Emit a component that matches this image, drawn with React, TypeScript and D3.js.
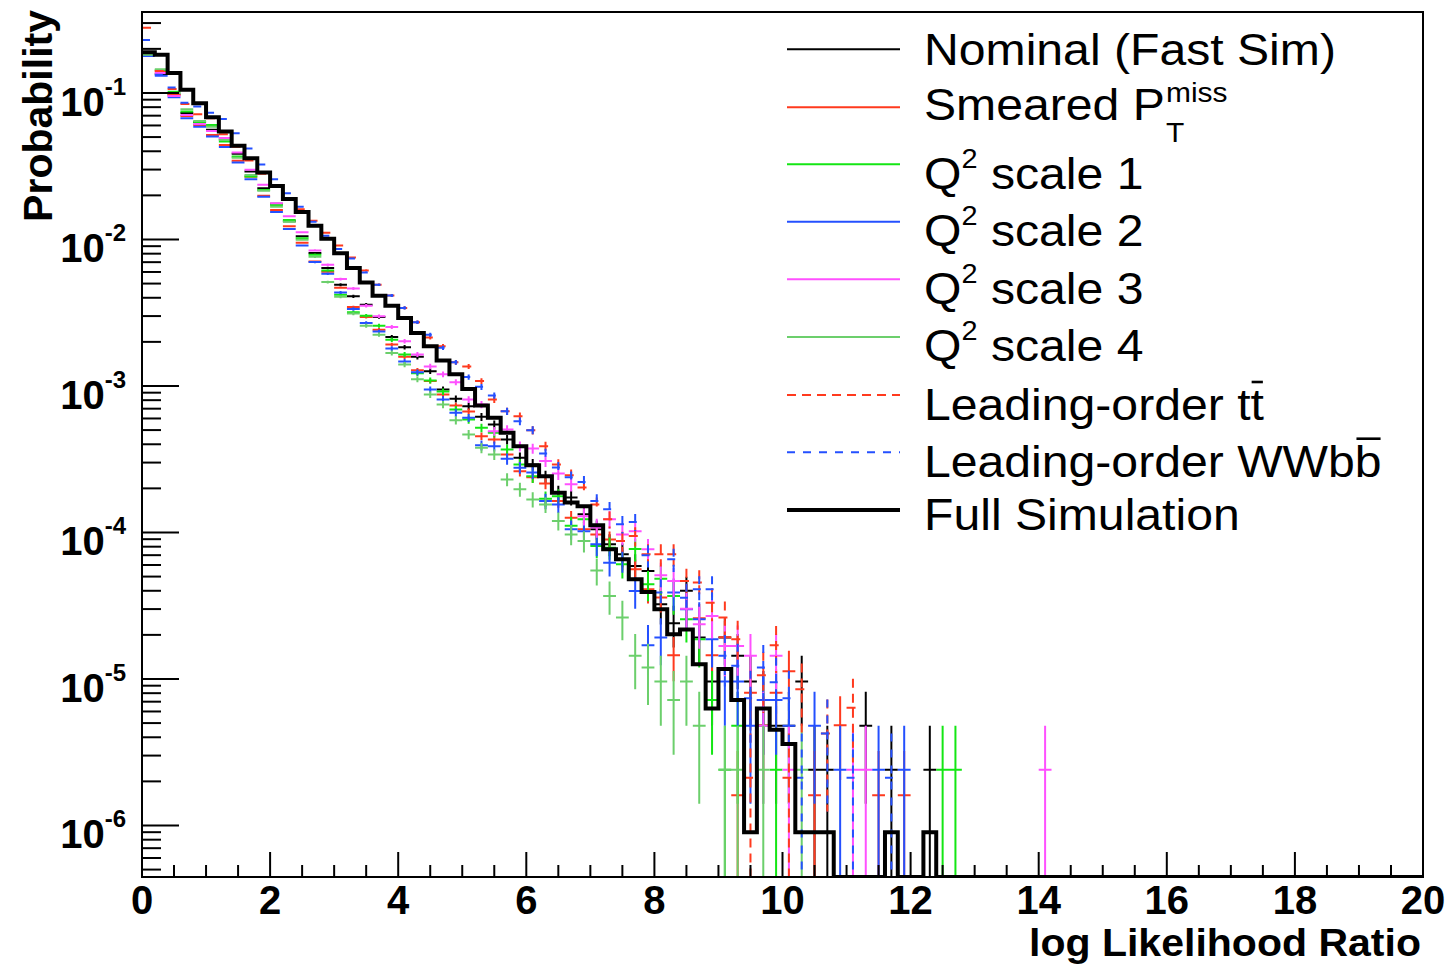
import React from "react";
import * as d3 from "d3";

// ---------------- data (bin width 0.2, bin i covers [0.2*i, 0.2*(i+1)) ) ----------------
const BIN_WIDTH = 0.2;
const N_BINS = 100;
const X_RANGE = [0, 20];
const Y_RANGE = [4.45e-7, 0.357];

const fullSimulation = [
  0.19, 0.182, 0.137, 0.105, 0.0851, 0.0683, 0.0545, 0.0437, 0.0359, 0.0286,
  0.0232, 0.0189, 0.0154, 0.0124, 0.0101, 0.00806, 0.00638, 0.00509, 0.00413, 0.00353,
  0.00291, 0.0023, 0.00187, 0.00149, 0.0012, 0.000955, 0.000735, 0.000606, 0.000479, 0.000388,
  0.000288, 0.000242, 0.000187, 0.00016, 0.000151, 0.000112, 7.67e-5, 6.56e-5, 4.79e-5, 3.93e-5,
  2.99e-5, 2.02e-5, 2.18e-5, 1.26e-5, 6.3e-6, 1.17e-5, 7.2e-6, 9.0e-7, 6.3e-6, 4.5e-6,
  3.6e-6, 9.0e-7, 9.0e-7, 9.0e-7, 0, 0, 0, 0, 9.0e-7, 0,
  0, 9.0e-7,
];

const nominalFastSim = [
  0.1845, 0.1347, 0.098, 0.0731, 0.0634, 0.056, 0.0484, 0.0384, 0.0291, 0.0224,
  0.0175, 0.0133, 0.0105, 0.00808, 0.00639, 0.00491, 0.00409, 0.00359, 0.00296, 0.00216,
  0.00184, 0.00158, 0.00126, 0.000945, 0.000817, 0.000727, 0.000616, 0.000546, 0.000431, 0.000324,
  0.000291, 0.00024, 0.000187, 0.000173, 0.000133, 0.000105, 8.3e-5, 7.09e-5, 5.9e-5, 5.46e-5,
  3.24e-5, 2.4e-5, 4.0e-5, 1.92e-5, 9.6e-6, 1.92e-5, 1.44e-5, 9.6e-6, 7.2e-6, 4.8e-6,
  4.8e-6, 9.6e-6, 2.4e-6, 2.4e-6, 0, 0, 4.8e-6, 0, 2.4e-6, 0,
  0, 2.4e-6,
];

const smearedPtMiss = [
  0.19, 0.14, 0.0969, 0.0697, 0.0605, 0.0517, 0.0442, 0.0344, 0.0268, 0.0199,
  0.0159, 0.0123, 0.0095, 0.00708, 0.00602, 0.00469, 0.00346, 0.00296, 0.00242, 0.00192,
  0.00158, 0.00128, 0.00108, 0.000874, 0.000735, 0.000669, 0.000454, 0.000431, 0.000341, 0.000262,
  0.000238, 0.000216, 0.000164, 0.000126, 0.000105, 9.7e-5, 8.97e-5, 6.56e-5, 5.6e-5, 4.09e-5,
  3.6e-5, 1.45e-5, 3.0e-5, 2.6e-5, 1.45e-5, 1.93e-5, 1.61e-6, 8.05e-6, 4.83e-6, 8.05e-6,
  1.13e-5, 0, 1.61e-6, 0, 4.83e-6, 0, 0, 1.61e-6, 0, 1.61e-6,
];

const q2Scale1 = [
  0.187, 0.1435, 0.102, 0.0746, 0.0631, 0.0605, 0.0466, 0.0368, 0.0269, 0.0218,
  0.0172, 0.0136, 0.0102, 0.00787, 0.00615, 0.0042, 0.00318, 0.00302, 0.00258, 0.00207,
  0.00164, 0.00122, 0.00109, 0.000916, 0.00069, 0.00059, 0.000518, 0.000479, 0.000369, 0.000291,
  0.000242, 0.00017, 0.000177, 0.000111, 0.000123, 8.08e-5, 7.88e-5, 6.06e-5, 7.7e-5, 4.43e-5,
  4.84e-5, 3.69e-5, 2.56e-5, 1.87e-5, 7.2e-6, 2.4e-6, 4.8e-6, 0, 4.8e-6, 2.4e-6,
  0, 0, 0, 0, 0, 0, 0, 0, 0, 0,
  0, 0, 2.4e-6, 2.4e-6,
];

const q2Scale2 = [
  0.179, 0.131, 0.0935, 0.0672, 0.0589, 0.0504, 0.0427, 0.0335, 0.0258, 0.0196,
  0.0154, 0.0118, 0.0091, 0.00701, 0.00584, 0.00435, 0.00335, 0.00269, 0.00235, 0.0018,
  0.00147, 0.00124, 0.000945, 0.000808, 0.000656, 0.000606, 0.000394, 0.000388, 0.000318, 0.000277,
  0.000257, 0.000164, 0.000155, 0.000105, 0.000102, 8.3e-5, 6.22e-5, 6.56e-5, 3.99e-5, 1.7e-5,
  1.92e-5, 3.89e-5, 2.99e-5, 2.56e-5, 1.87e-5, 9.6e-6, 9.6e-6, 4.8e-6, 7.2e-6, 7.2e-6,
  4.8e-6, 0, 4.8e-6, 0, 2.4e-6, 0, 0, 2.4e-6, 0, 2.4e-6,
];

const q2Scale3 = [
  0.1845, 0.137, 0.0954, 0.0708, 0.0615, 0.0551, 0.0493, 0.0392, 0.0299, 0.0236,
  0.0177, 0.0144, 0.0112, 0.00842, 0.00672, 0.00537, 0.00463, 0.00353, 0.00299, 0.00253,
  0.00202, 0.00164, 0.00136, 0.0012, 0.00106, 0.000808, 0.000747, 0.000491, 0.000504, 0.000388,
  0.000374, 0.000307, 0.000253, 0.000213, 0.000129, 0.000108, 0.000123, 9.7e-5, 0.000102, 7.67e-5,
  5.1e-5, 4.67e-5, 3.02e-5, 2.36e-5, 2.69e-5, 1.68e-5, 1.68e-5, 1.44e-5, 4.8e-6, 1.44e-5,
  2.4e-6, 0, 0, 0, 0, 2.4e-6, 2.4e-6, 0, 0, 0,
  0, 0, 0, 0, 0, 0, 0, 0, 0, 0,
  2.4e-6,
];

const q2Scale4 = [
  0.182, 0.145, 0.1, 0.0774, 0.0644, 0.0587, 0.0478, 0.0361, 0.0276, 0.0215,
  0.0167, 0.0132, 0.00995, 0.00762, 0.00512, 0.00407, 0.00312, 0.00258, 0.00224, 0.00168,
  0.0014, 0.00111, 0.000874, 0.000747, 0.000584, 0.000467, 0.000378, 0.000341, 0.00023, 0.000197,
  0.000168, 0.000155, 0.00012, 9.7e-5, 8.74e-5, 5.5e-5, 3.69e-5, 2.63e-5, 1.44e-5, 1.2e-5,
  9.6e-6, 7.2e-6, 9.6e-6, 4.8e-6, 0, 2.4e-6, 2.4e-6, 0, 2.4e-6, 0,
  0, 2.4e-6,
];

const leadingOrderTT = [
  0.279, 0.141, 0.1065, 0.0841, 0.0716, 0.0672, 0.0523, 0.043, 0.0346, 0.0281,
  0.0233, 0.019, 0.0161, 0.0134, 0.0111, 0.0091, 0.00754, 0.00615, 0.00491, 0.00415,
  0.00341, 0.00272, 0.00214, 0.00187, 0.00145, 0.00136, 0.00108, 0.000808, 0.000672, 0.000622,
  0.000499, 0.000388, 0.000291, 0.000246, 0.000203, 0.000155, 0.000123, 8.74e-5, 9.45e-5, 7.09e-5,
  7.09e-5, 7.09e-5, 4.67e-5, 4.55e-5, 3.32e-5, 2.63e-5, 1.87e-5, 2.12e-6, 1.06e-5, 1.7e-5,
  2.12e-6, 8.5e-6, 0, 4.24e-6, 0, 6.36e-6,
];

const leadingOrderWWbb = [
  0.23, 0.133, 0.109, 0.0859, 0.0807, 0.0734, 0.0665, 0.0531, 0.0417, 0.0325,
  0.0258, 0.0207, 0.0167, 0.0132, 0.0106, 0.0086, 0.00742, 0.00596, 0.00491, 0.00415,
  0.00341, 0.00272, 0.00224, 0.00182, 0.00145, 0.00115, 0.000986, 0.00086, 0.000672, 0.000575,
  0.000499, 0.000346, 0.000278, 0.000238, 0.000221, 0.000164, 0.000144, 0.000114, 0.000118, 6.98e-5,
  3.89e-5, 6.56e-5, 3.59e-5, 4.09e-5, 4.09e-5, 1.44e-5, 1.23e-5, 7.4e-6, 1.2e-5, 9.5e-6,
  7.4e-6, 2.12e-6, 0, 4.24e-6, 0, 2.12e-6, 0, 0, 2.12e-6,
];

// probability carried by a single event of each sample (sets the Poisson error bars)
const entryWeights = [2.4e-6, 1.61e-6, 2.4e-6, 2.4e-6, 2.4e-6, 2.4e-6, 2.12e-6, 2.12e-6];

const xMajorTicks = [0, 2, 4, 6, 8, 10, 12, 14, 16, 18, 20];
const yDecadeExponents = [-1, -2, -3, -4, -5, -6];

// ---------------- styles & layout ----------------
const W = 1446;
const H = 964;
const FRAME = { left: 142, right: 1423, top: 12, bottom: 877 };
const FONT = '"Liberation Sans", Arial, Helvetica, sans-serif';

const COLORS = {
  black: "#000000",
  red: "#ff3a1e",
  green: "#14e614",
  blue: "#2450ff",
  magenta: "#ff50ff",
  lightGreen: "#6ccf6c",
};

const pointSeries = [
  { values: nominalFastSim, color: COLORS.black, dash: undefined as string | undefined },
  { values: smearedPtMiss, color: COLORS.red, dash: undefined },
  { values: q2Scale1, color: COLORS.green, dash: undefined },
  { values: q2Scale2, color: COLORS.blue, dash: undefined },
  { values: q2Scale3, color: COLORS.magenta, dash: undefined },
  { values: q2Scale4, color: COLORS.lightGreen, dash: undefined },
  { values: leadingOrderTT, color: COLORS.red, dash: "9,6" },
  { values: leadingOrderWWbb, color: COLORS.blue, dash: "8,8" },
];

const LEGEND = { x1: 787, x2: 900, textX: 924, fontSize: 45, stretch: 1.07 };
const legendRows = [
  { line: 49.3, base: 65 },
  { line: 107.3, base: 120 },
  { line: 164.3, base: 188.5 },
  { line: 221.7, base: 246 },
  { line: 279.3, base: 303.5 },
  { line: 337, base: 361 },
  { line: 395, base: 420 },
  { line: 452.3, base: 476.7 },
  { line: 510, base: 530 },
];

let measureCtx: CanvasRenderingContext2D | null = null;
function textWidth(s: string, size: number, weight = "normal"): number {
  if (!measureCtx && typeof document !== "undefined") {
    measureCtx = document.createElement("canvas").getContext("2d");
  }
  if (!measureCtx) return s.length * size * 0.55;
  measureCtx.font = `${weight} ${size}px ${FONT}`;
  return measureCtx.measureText(s).width;
}

function LegendLabel({ index }: { index: number }) {
  const fs = LEGEND.fontSize;
  const sub = 28;
  const sup2 = 27;
  switch (index) {
    case 0:
      return <text fontSize={fs}>Nominal (Fast Sim)</text>;
    case 1: {
      const w = textWidth("Smeared P", fs);
      return (
        <g>
          <text fontSize={fs}>Smeared P</text>
          <text x={w + 1} y={-18} fontSize={sub}>miss</text>
          <text x={w + 1} y={21.7} fontSize={sub}>T</text>
        </g>
      );
    }
    case 2:
    case 3:
    case 4:
    case 5:
      return (
        <text fontSize={fs}>
          Q<tspan fontSize={sup2} dy={-21}>2</tspan>
          <tspan fontSize={fs} dy={21}>{` scale ${index - 1}`}</tspan>
        </text>
      );
    case 6: {
      const a = textWidth("Leading-order t", fs);
      const b = textWidth("Leading-order tt", fs);
      return (
        <g>
          <text fontSize={fs}>Leading-order tt</text>
          <line x1={a + 1} x2={b - 1} y1={-38} y2={-38} stroke="#000" strokeWidth={2.6} />
        </g>
      );
    }
    case 7: {
      const a = textWidth("Leading-order WWb", fs);
      const b = textWidth("Leading-order WWbb", fs);
      return (
        <g>
          <text fontSize={fs}>Leading-order WWbb</text>
          <line x1={a + 1.5} x2={b - 1} y1={-38} y2={-38} stroke="#000" strokeWidth={2.6} />
        </g>
      );
    }
    default:
      return <text fontSize={fs}>Full Simulation</text>;
  }
}

export default function App() {
  const x = d3.scaleLinear().domain(X_RANGE).range([FRAME.left, FRAME.right]);
  const y = d3.scaleLog().domain(Y_RANGE).range([FRAME.bottom, FRAME.top]).clamp(true);
  const yv = (v: number) => (v > 0 ? y(v) : FRAME.bottom);

  // full simulation histogram outline
  const full = Array.from({ length: N_BINS }, (_, i) => fullSimulation[i] ?? 0);
  const histPts: [number, number][] = full.map((v, i) => [i * BIN_WIDTH, v]);
  histPts.push([N_BINS * BIN_WIDTH, full[N_BINS - 1]]);
  const histLine = d3
    .line<[number, number]>()
    .x((d) => x(d[0]))
    .y((d) => yv(d[1]))
    .curve(d3.curveStepAfter);

  // error-bar crosses
  const crossPath = (values: number[], weight: number) => {
    const p = d3.path();
    values.forEach((v, i) => {
      if (!(v > 0)) return;
      const err = Math.sqrt(v * weight);
      const x1 = x(i * BIN_WIDTH);
      const x2 = x((i + 1) * BIN_WIDTH);
      const cx = x((i + 0.5) * BIN_WIDTH);
      const yc = y(v);
      p.moveTo(x1, yc);
      p.lineTo(x2, yc);
      p.moveTo(cx, y(v + err));
      p.lineTo(cx, v - err > 0 ? y(v - err) : FRAME.bottom);
    });
    return p.toString();
  };

  // ticks
  const xMinor = d3.range(0, 20.001, 0.5).filter((t) => Math.abs(t / 2 - Math.round(t / 2)) > 1e-6);
  const yMinor: number[] = [];
  for (let k = -7; k <= 0; k++) {
    for (let m = 2; m <= 9; m++) {
      const v = m * Math.pow(10, k);
      if (v >= Y_RANGE[0] && v <= Y_RANGE[1]) yMinor.push(v);
    }
  }

  return (
    <svg
      width={W}
      height={H}
      viewBox={`0 0 ${W} ${H}`}
      style={{ position: "absolute", left: 0, top: 0, background: "#fff" }}
      fontFamily={FONT}
    >
      <defs>
        <clipPath id="plotArea">
          <rect x={FRAME.left} y={FRAME.top} width={FRAME.right - FRAME.left} height={FRAME.bottom - FRAME.top} />
        </clipPath>
      </defs>
      <rect x={0} y={0} width={W} height={H} fill="#fff" />

      <g clipPath="url(#plotArea)">
        {pointSeries.map((s, si) => (
          <path
            key={si}
            d={crossPath(s.values, entryWeights[si])}
            fill="none"
            stroke={s.color}
            strokeWidth={2}
            strokeDasharray={s.dash}
          />
        ))}
        <path d={histLine(histPts) || ""} fill="none" stroke="#000" strokeWidth={4} strokeLinejoin="miter" />
      </g>

      {/* frame */}
      <rect
        x={FRAME.left}
        y={FRAME.top}
        width={FRAME.right - FRAME.left}
        height={FRAME.bottom - FRAME.top}
        fill="none"
        stroke="#000"
        strokeWidth={2}
      />

      {/* ticks */}
      <g stroke="#000" strokeWidth={2}>
        {xMajorTicks.map((t) => (
          <line key={`xM${t}`} x1={x(t)} x2={x(t)} y1={FRAME.bottom} y2={FRAME.bottom - 25} />
        ))}
        {xMinor.map((t) => (
          <line key={`xm${t}`} x1={x(t)} x2={x(t)} y1={FRAME.bottom} y2={FRAME.bottom - 12} />
        ))}
        {yDecadeExponents.map((k) => (
          <line key={`yM${k}`} x1={FRAME.left} x2={FRAME.left + 37} y1={y(Math.pow(10, k))} y2={y(Math.pow(10, k))} />
        ))}
        {yMinor.map((v, i) => (
          <line key={`ym${i}`} x1={FRAME.left} x2={FRAME.left + 19} y1={y(v)} y2={y(v)} />
        ))}
      </g>

      {/* x tick labels */}
      <g fontSize={40} fontWeight="bold" textAnchor="middle">
        {xMajorTicks.map((t) => (
          <text key={`xl${t}`} x={x(t)} y={913.5}>
            {String(t)}
          </text>
        ))}
      </g>

      {/* y tick labels */}
      <g fontWeight="bold" textAnchor="end">
        {yDecadeExponents.map((k) => (
          <text key={`yl${k}`} x={126} y={y(Math.pow(10, k)) + 22.7} fontSize={40}>
            10
            <tspan fontSize={24} dy={-21}>{String(k)}</tspan>
          </text>
        ))}
      </g>

      {/* axis titles */}
      <text
        x={1421}
        y={955.5}
        fontSize={38}
        fontWeight="bold"
        textAnchor="end"
        textLength={392}
        lengthAdjust="spacingAndGlyphs"
      >
        log Likelihood Ratio
      </text>
      <text transform="translate(52,10) rotate(-90)" fontSize={41} fontWeight="bold" textAnchor="end">
        Probability
      </text>

      {/* legend */}
      <g>
        {legendRows.map((r, i) => {
          const isFull = i === 8;
          const style = isFull ? { color: "#000", dash: undefined } : pointSeries[i];
          return (
            <g key={`lg${i}`}>
              <line
                x1={LEGEND.x1}
                x2={LEGEND.x2}
                y1={r.line}
                y2={r.line}
                stroke={style.color}
                strokeWidth={isFull ? 4 : 2}
                strokeDasharray={style.dash}
              />
              <g transform={`translate(${LEGEND.textX},${r.base}) scale(${LEGEND.stretch},1)`} fill="#000">
                <LegendLabel index={i} />
              </g>
            </g>
          );
        })}
      </g>
    </svg>
  );
}
